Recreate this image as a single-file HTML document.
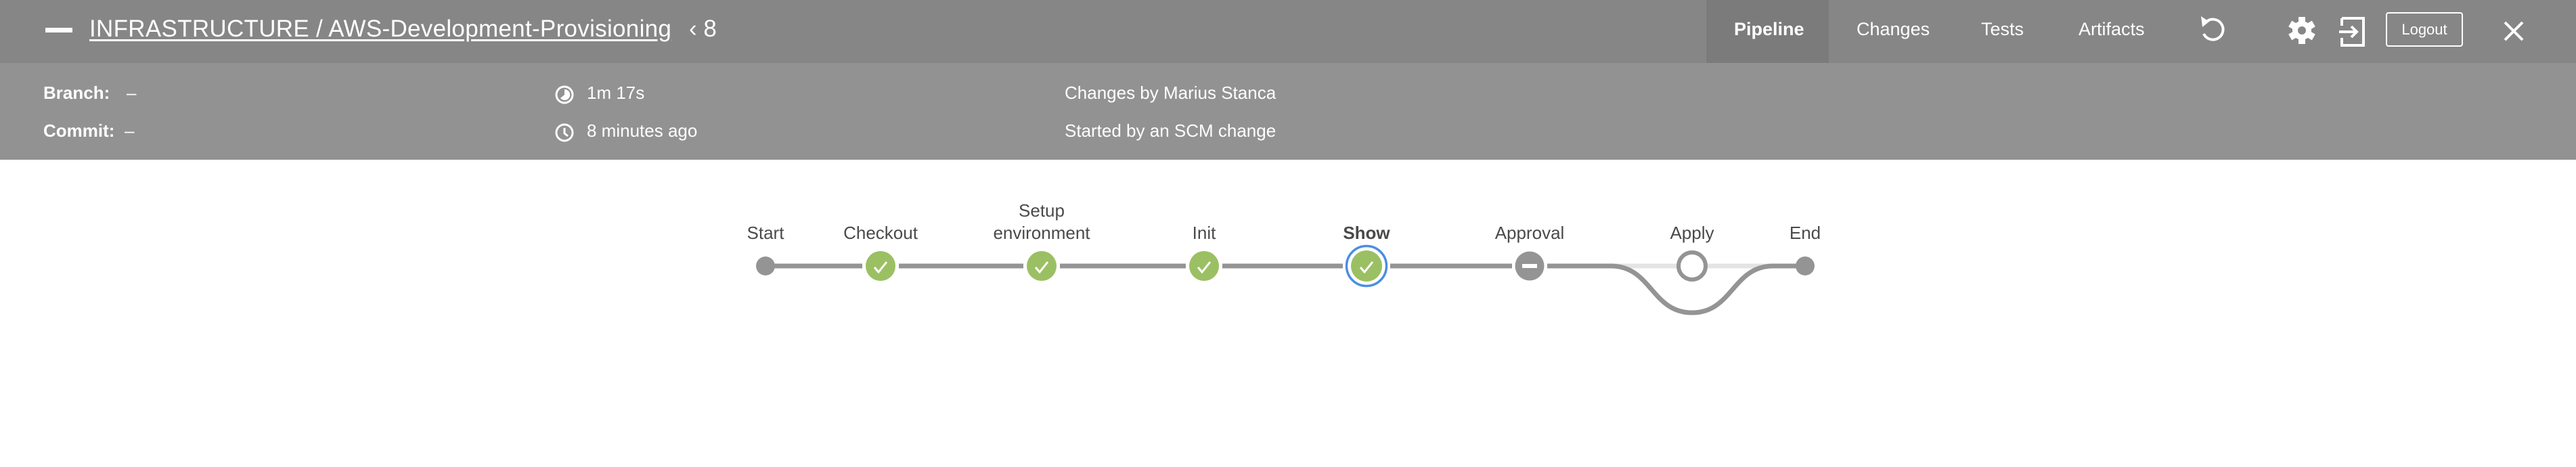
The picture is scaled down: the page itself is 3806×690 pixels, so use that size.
<!DOCTYPE html>
<html><head><meta charset="utf-8"><style>
*{margin:0;padding:0;box-sizing:border-box}
body{width:3806px;height:690px;background:#fff;position:relative;overflow:hidden;font-family:"Liberation Sans",sans-serif}
.a{position:absolute;white-space:nowrap}
.top{position:absolute;left:0;top:0;width:3806px;height:93px;background:#868686}
.sub{position:absolute;left:0;top:93px;width:3806px;height:143px;background:#929292}
.w{color:#fff}
</style></head><body>
<div class="top"></div>
<div class="sub"></div>
<div class="a" style="left:67px;top:41px;width:40px;height:7px;background:#fff"></div>
<div class="a w" style="left:132px;top:23px;font-size:35px;text-decoration:underline;text-underline-offset:4px;letter-spacing:0.3px">INFRASTRUCTURE / AWS-Development-Provisioning</div>
<div class="a w" style="left:1018px;top:23px;font-size:35px">&#8249; 8</div>
<div class="a" style="left:2521px;top:0;width:181px;height:93px;background:#7b7b7b"></div>
<div class="a w" style="left:2562px;top:28px;font-size:27px;font-weight:bold">Pipeline</div>
<div class="a w" style="left:2743px;top:28px;font-size:27px">Changes</div>
<div class="a w" style="left:2927px;top:28px;font-size:27px">Tests</div>
<div class="a w" style="left:3071px;top:28px;font-size:27px">Artifacts</div>
<svg class="a" style="left:3240px;top:20px" width="60" height="50" viewBox="0 0 60 50"><path d="M20 12 A15 15 0 1 1 16 30" fill="none" stroke="#fff" stroke-width="4"/><path d="M12 4 L24 12 L14 20 Z" fill="#fff"/></svg>
<svg class="a" style="left:3380px;top:22px" width="42" height="46" viewBox="0 0 42 46"><g fill="#fff" transform="translate(21 23)"><circle r="14"/><rect x="-5" y="-20" width="10" height="40"/><rect x="-5" y="-20" width="10" height="40" transform="rotate(60)"/><rect x="-5" y="-20" width="10" height="40" transform="rotate(120)"/></g><circle cx="21" cy="23" r="6" fill="#868686"/></svg>
<svg class="a" style="left:3456px;top:24px" width="42" height="46" viewBox="0 0 42 46"><path d="M4 3 H36 V43 H4 V32 M4 14 V3" fill="none" stroke="#fff" stroke-width="4"/><path d="M0 23 H26 M18 15 L26 23 L18 31" fill="none" stroke="#fff" stroke-width="4"/></svg>
<div class="a" style="left:3525px;top:18px;width:114px;height:51px;border:2px solid #fff;border-radius:4px;color:#fff;font-size:22px;text-align:center;line-height:47px">Logout</div>
<svg class="a" style="left:3698px;top:30px" width="32" height="32"><path d="M3 3 L29 29 M29 3 L3 29" stroke="#fff" stroke-width="4"/></svg>
<div class="a w" style="left:64px;top:122px;font-size:26px;font-weight:bold">Branch:</div>
<div class="a w" style="left:187px;top:122px;font-size:26px">–</div>
<div class="a w" style="left:64px;top:178px;font-size:26px;font-weight:bold">Commit:</div>
<div class="a w" style="left:184px;top:178px;font-size:26px">–</div>
<svg class="a" style="left:818px;top:124px" width="32" height="32"><circle cx="16" cy="16" r="12" fill="none" stroke="#fff" stroke-width="3"/><path d="M16 16 V8 A8 8 0 1 1 10 21 Z" fill="#fff"/></svg>
<div class="a w" style="left:867px;top:122px;font-size:26px">1m 17s</div>
<svg class="a" style="left:818px;top:180px" width="32" height="32"><circle cx="16" cy="16" r="12" fill="none" stroke="#fff" stroke-width="3"/><path d="M16 9 V17 L21 21" fill="none" stroke="#fff" stroke-width="3"/></svg>
<div class="a w" style="left:867px;top:178px;font-size:26px">8 minutes ago</div>
<div class="a w" style="left:1573px;top:122px;font-size:26px">Changes by Marius Stanca</div>
<div class="a w" style="left:1573px;top:178px;font-size:26px">Started by an SCM change</div>
<svg class="a" style="left:0;top:0" width="3806" height="690">
<g stroke="#949494" stroke-width="7" fill="none">
<line x1="1131" y1="393" x2="1274" y2="393"/>
<line x1="1328" y1="393" x2="1512" y2="393"/>
<line x1="1566" y1="393" x2="1752" y2="393"/>
<line x1="1806" y1="393" x2="1984" y2="393"/>
<line x1="2054" y1="393" x2="2234" y2="393"/>
<line x1="2286" y1="393" x2="2382" y2="393"/>
<line x1="2382" y1="393" x2="2618" y2="393" stroke="#e4e4e4"/>
<path d="M2380 393 C2440 393 2440 462 2500 462 C2560 462 2560 393 2620 393 L2667 393"/>
</g>
<circle cx="1131" cy="393" r="14" fill="#949494"/>
<circle cx="2667" cy="393" r="14" fill="#949494"/>
<g fill="#9bc063">
<circle cx="1301" cy="393" r="22"/><circle cx="1539" cy="393" r="22"/><circle cx="1779" cy="393" r="22"/><circle cx="2019" cy="393" r="23"/>
</g>
<circle cx="2019" cy="393" r="29.5" fill="none" stroke="#4a8fe0" stroke-width="3.5"/>
<g stroke="#fff" stroke-width="3" fill="none">
<path d="M1292 395 l6 7 l12 -15"/><path d="M1530 395 l6 7 l12 -15"/><path d="M1770 395 l6 7 l12 -15"/><path d="M2010 395 l6 7 l12 -15"/>
</g>
<circle cx="2260" cy="393" r="21.5" fill="#949494"/>
<rect x="2249" y="390" width="22" height="6" fill="#fff"/>
<circle cx="2500" cy="393" r="20" fill="#fff" stroke="#949494" stroke-width="6"/>
<g font-family="Liberation Sans, sans-serif" font-size="26" fill="#4a4a4a" text-anchor="middle">
<text x="1131" y="353">Start</text>
<text x="1301" y="353">Checkout</text>
<text x="1539" y="320">Setup</text>
<text x="1539" y="353">environment</text>
<text x="1779" y="353">Init</text>
<text x="2019" y="353" font-weight="bold">Show</text>
<text x="2260" y="353">Approval</text>
<text x="2500" y="353">Apply</text>
<text x="2667" y="353">End</text>
</g>
</svg>
</body></html>
